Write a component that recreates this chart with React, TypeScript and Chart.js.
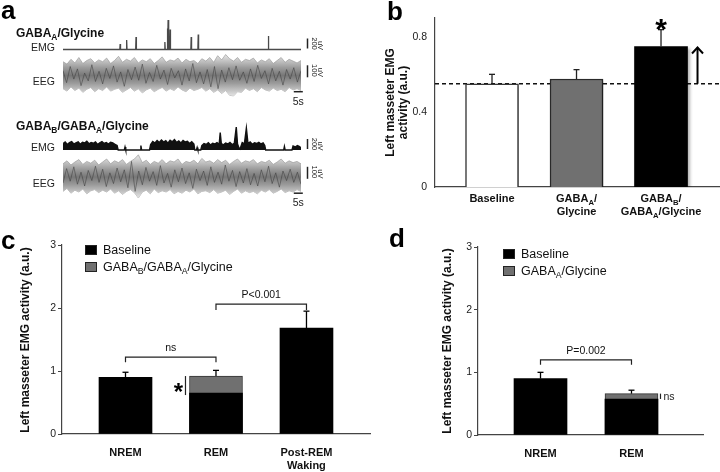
import React, { useEffect, useRef } from "react";
import { Chart, registerables } from "chart.js";

Chart.register(...registerables);

const FONT = "'Liberation Sans', Arial, Helvetica, sans-serif";
Chart.defaults.font.family = FONT;

// ---------------- Panel a : raw traces ----------------
const traceTitles = ["GABA_A/Glycine", "GABA_B/GABA_A/Glycine"];
const emgScaleUv = 200;
const eegScaleUv = 100;
const timeScaleS = 5;
const traceDurationS = 132;

const emg1Times = [0, 31.5, 31.7, 31.9, 35.1, 35.3, 35.5, 40.3, 40.5, 40.7, 56.3, 56.5, 56.7, 57.7, 57.9, 58.1, 58.3, 58.5, 58.7, 59.2, 59.4, 59.6, 70.9, 71.1, 71.3, 74.8, 75.0, 75.2, 113.7, 113.9, 114.1, 132];
const emg1Values = [0, 0, 110, 0, 0, 190, 0, 0, 250, 0, 0, 150, 0, 0, 420, 0, 590, 0, 0, 0, 400, 0, 0, 250, 0, 0, 300, 0, 0, 270, 0, 0];

const emg2Times = [
  0, 1.2, 2.4, 3.6, 4.8, 6, 7.2, 8.4, 9.6, 10.8, 12, 13.2, 14.4, 15.6, 16.8, 18, 19.2, 20.4, 21.6, 22.8, 24, 25.2, 26.4, 27.6, 28.8, 30, 30.6,
  34.0, 34.4, 34.8,
  42.8, 43.2, 43.6,
  48.0, 48.6, 49.8, 51.0, 52.2, 53.4, 54.6, 55.8, 57.0, 58.2, 59.4, 60.6, 61.8, 63.0, 64.2, 65.4, 66.6, 67.8, 69.0, 70.2, 71.4, 72.6, 73.1,
  74.0, 74.4, 74.8,
  76.4, 77.0, 78.2, 79.4, 80.6, 81.8, 83.0, 84.2, 85.4, 86.6, 87.2, 87.8, 89.0, 90.2, 91.4, 92.6, 93.8, 95.0, 96.1, 96.8,
  97.6, 98.2, 99.4, 100.6, 101.7, 102.6, 103.8, 105.0, 106.2, 107.4, 108.6, 109.8, 111.0, 111.9, 112.4,
  122.4, 122.8, 123.2,
  127.0, 127.6, 128.8, 130.0, 131.2, 132,
];
const emg2Values = [
  130, 160, 110, 150, 170, 120, 145, 165, 115, 155, 140, 175, 125, 150, 135, 160, 110, 145, 170, 130, 150, 120, 155, 140, 115, 90, 0,
  0, 60, 0,
  0, 90, 0,
  0, 110, 170, 140, 190, 150, 200, 160, 185, 135, 195, 165, 210, 150, 180, 140, 190, 160, 175, 130, 165, 120, 0,
  0, 50, 0,
  0, 90, 130, 110, 145, 100, 135, 120, 150, 115, 350, 130, 105, 140, 120, 150, 110, 135, 460, 120,
  40, 20, 150, 125, 440, 130, 160, 115, 145, 130, 155, 120, 140, 90, 0,
  0, 70, 0,
  0, 80, 60, 90, 70, 40,
];

const eegStepS = 2.2;
const eeg1Upper = [
  115, 95, 135, 105, 150, 100, 125, 140, 105, 130,
  115, 145, 100, 125, 160, 110, 135, 120, 150, 105,
  130, 115, 140, 100, 125, 155, 110, 130, 120, 145,
  105, 135, 115, 125, 100, 140, 120, 150, 110, 165,
  130, 175, 140, 120, 150, 110, 135, 125, 145, 105,
  130, 115, 140, 100, 125, 150, 110, 135, 120, 105, 125,
];
const eeg1Lower = [
  -110, -130, -95, -125, -105, -140, -115, -100, -135, -110,
  -125, -95, -130, -115, -105, -140, -120, -100, -130, -110,
  -145, -120, -105, -135, -115, -100, -130, -110, -125, -95,
  -120, -135, -105, -125, -115, -100, -130, -110, -140, -120,
  -150, -125, -165, -170, -135, -140, -105, -125, -110, -135,
  -100, -120, -130, -105, -125, -115, -135, -100, -120, -110, -125,
];
const eeg2Upper = [
  110, 135, 100, 125, 145, 105, 130, 115, 140, 100,
  125, 150, 110, 135, 120, 145, 105, 130, 150, 185,
  120, 140, 105, 130, 115, 145, 110, 135, 125, 150,
  105, 130, 120, 140, 110, 155, 125, 135, 115, 145,
  120, 140, 105, 130, 150, 115, 135, 125, 145, 110,
  130, 120, 140, 105, 125, 150, 115, 135, 120, 130, 110,
];
const eeg2Lower = [
  -120, -95, -135, -110, -125, -100, -140, -115, -105, -130,
  -110, -125, -100, -135, -115, -145, -120, -105, -130, -175,
  -125, -110, -140, -100, -130, -115, -125, -105, -140, -120,
  -135, -110, -125, -100, -140, -120, -115, -130, -105, -135,
  -125, -110, -145, -120, -100, -135, -115, -130, -120, -140,
  -110, -125, -105, -135, -120, -100, -130, -115, -125, -105, -120,
];
const eegCoreStepS = 2.0;
const eeg1Core = [
  40, -60, 75, -30, 55, -85, 20, -45, 90, -50,
  35, -70, 60, -25, 80, -55, 30, -90, 50, -35,
  70, -40, 95, -65, 25, -50, 85, -30, 45, -75,
  60, -20, 40, -80, 55, -45, 100, -60, 30, -70,
  50, -95, 75, -110, 45, -55, 65, -35, 80, -40,
  30, -65, 55, -50, 85, -25, 40, -70, 60, -45,
  35, -80, 50, -30, 65, -55, 40,
];
const eeg2Core = [
  -50, 70, -35, 85, -60, 40, -75, 55, -30, 90,
  -45, 65, -80, 35, -55, 75, -40, 60, -90, 130,
  -120, 50, -65, 80, -35, 45, -70, 95, -50, 30,
  -85, 60, -40, 75, -55, 35, -95, 65, -30, 50,
  -70, 85, -45, 40, -60, 100, -35, 55, -80, 45,
  -50, 70, -65, 30, -75, 60, -40, 90, -55, 35,
  -85, 50, -30, 65, -45, 40, -60,
];

// ---------------- Panel b ----------------
const bCategories = [["Baseline"], ["GABA_A/", "Glycine"], ["GABA_B/", "GABA_A/Glycine"]];
const bValues = [0.55, 0.575, 0.748];
const bErrors = [0.05, 0.05, 0.09];
const bYMax = 0.9;
const bYStep = 0.4;
const bYTitle = ["Left masseter EMG", "activity (a.u.)"];

// ---------------- Panel c ----------------
const cCategories = [["NREM"], ["REM"], ["Post-REM", "Waking"]];
const cSeriesNames = ["Baseline", "GABA_B/GABA_A/Glycine"];
const cBaseline = [0.9, 0.65, 1.68];
const cBaselineErr = [0.08, null, 0.27];
const cDrug = [null, 0.92, null];
const cDrugErr = [null, 0.09, null];
const cBrackets = [
  { from: 0, to: 1, level: 1.22, drop: 0.08, text: "ns" },
  { from: 1, to: 2, level: 2.06, drop: 0.09, text: "P<0.001" },
];

// ---------------- Panel d ----------------
const dCategories = [["NREM"], ["REM"]];
const dSeriesNames = ["Baseline", "GABA_A/Glycine"];
const dBaseline = [0.9, 0.575];
const dBaselineErr = [0.1, null];
const dDrug = [null, 0.66];
const dDrugErr = [null, 0.055];
const dBrackets = [{ from: 0, to: 1, level: 1.2, drop: 0.08, text: "P=0.002" }];

const yTitleFull = "Left masseter EMG activity (a.u.)";

// ---------------- helpers ----------------
type Seg = { t: string; sub: boolean };
function parseRich(text: string): Seg[] {
  const segs: Seg[] = [];
  let buf = "";
  for (let i = 0; i < text.length; i++) {
    if (text[i] === "_" && i + 1 < text.length) {
      if (buf) segs.push({ t: buf, sub: false });
      buf = "";
      segs.push({ t: text[i + 1], sub: true });
      i++;
    } else buf += text[i];
  }
  if (buf) segs.push({ t: buf, sub: false });
  return segs;
}

function drawRich(ctx: CanvasRenderingContext2D, text: string, x: number, y: number, size: number, weight = "normal", align = "left", color = "#111") {
  const segs = parseRich(text);
  const sub = size * 0.7;
  const fontFor = (s: Seg) => `${weight} ${s.sub ? sub : size}px ${FONT}`;
  let total = 0;
  for (const s of segs) {
    ctx.font = fontFor(s);
    total += ctx.measureText(s.t).width;
  }
  let cx = align === "center" ? x - total / 2 : align === "right" ? x - total : x;
  ctx.save();
  ctx.fillStyle = color;
  ctx.textAlign = "left";
  ctx.textBaseline = "alphabetic";
  for (const s of segs) {
    ctx.font = fontFor(s);
    ctx.fillText(s.t, cx, s.sub ? y + size * 0.25 : y);
    cx += ctx.measureText(s.t).width;
  }
  ctx.restore();
}

function drawRotated(ctx: CanvasRenderingContext2D, text: string, x: number, y: number, angle: number, font: string, color = "#111") {
  ctx.save();
  ctx.translate(x, y);
  ctx.rotate(angle);
  ctx.font = font;
  ctx.fillStyle = color;
  ctx.textAlign = "center";
  ctx.textBaseline = "middle";
  ctx.fillText(text, 0, 0);
  ctx.restore();
}

function line(ctx: CanvasRenderingContext2D, x1: number, y1: number, x2: number, y2: number) {
  ctx.beginPath();
  ctx.moveTo(x1, y1);
  ctx.lineTo(x2, y2);
  ctx.stroke();
}

function drawErrorBars(chart: any, color = "#000") {
  const { ctx } = chart;
  chart.data.datasets.forEach((ds: any, di: number) => {
    const errs = ds.errors;
    if (!errs) return;
    const meta = chart.getDatasetMeta(di);
    const ys = chart.scales[meta.yAxisID];
    meta.data.forEach((el: any, i: number) => {
      const e = errs[i];
      const v = ds.data[i] && ds.data[i].y;
      if (e == null || v == null) return;
      const yTop = ys.getPixelForValue(v + e);
      ctx.save();
      ctx.strokeStyle = color;
      ctx.lineWidth = 1.3;
      line(ctx, el.x, el.y, el.x, yTop);
      line(ctx, el.x - 3, yTop, el.x + 3, yTop);
      ctx.restore();
    });
  });
}

function drawCategoryLabels(chart: any, cats: string[][], first: number, lineH: number) {
  const { ctx, chartArea, scales } = chart;
  cats.forEach((lines, i) => {
    const x = scales.x.getPixelForValue(i);
    lines.forEach((t, k) => drawRich(ctx, t, x, chartArea.bottom + first + k * lineH, 11, "bold", "center"));
  });
}

function drawLegend(ctx: CanvasRenderingContext2D, x: number, y: number, names: string[], fills: string[], rowH: number) {
  names.forEach((n, i) => {
    const yy = y + i * rowH;
    ctx.save();
    ctx.fillStyle = fills[i];
    ctx.fillRect(x, yy, 12, 10);
    ctx.strokeStyle = "#222";
    ctx.lineWidth = 1;
    ctx.strokeRect(x + 0.5, yy + 0.5, 11, 9);
    ctx.restore();
    drawRich(ctx, n, x + 18, yy + 9, 12.5, "normal", "left");
  });
}

function drawBrackets(chart: any, brackets: any[]) {
  const { ctx, scales } = chart;
  brackets.forEach((b) => {
    const x1 = scales.x.getPixelForValue(b.from);
    const x2 = scales.x.getPixelForValue(b.to);
    const y = scales.y.getPixelForValue(b.level);
    const yd = scales.y.getPixelForValue(b.level - b.drop);
    ctx.save();
    ctx.strokeStyle = "#222";
    ctx.lineWidth = 1.2;
    ctx.beginPath();
    ctx.moveTo(x1, yd);
    ctx.lineTo(x1, y);
    ctx.lineTo(x2, y);
    ctx.lineTo(x2, yd);
    ctx.stroke();
    ctx.restore();
    drawRich(ctx, b.text, (x1 + x2) / 2, y - 6, 10.5, "normal", "center");
  });
}

function panelLetter(ctx: CanvasRenderingContext2D, t: string, x: number, y: number) {
  ctx.save();
  ctx.font = `bold 26px ${FONT}`;
  ctx.fillStyle = "#000";
  ctx.textAlign = "left";
  ctx.textBaseline = "alphabetic";
  ctx.fillText(t, x, y);
  ctx.restore();
}

const W = 720;
const H = 472;

function pts(xs: number[], ys: number[]) {
  return xs.map((x, i) => ({ x, y: ys[i] }));
}
function stepPts(vals: number[], step: number) {
  return vals.map((v, i) => ({ x: i * step, y: v }));
}

// ---------------- panel a config ----------------
function makeA() {
  const area = { left: 63, right: 301, top: 0, bottom: 236 };
  const traceScale = (zeroPx: number, pxPerUnit: number) => ({
    type: "linear",
    display: false,
    min: -(area.bottom - zeroPx) / pxPerUnit,
    max: (zeroPx - area.top) / pxPerUnit,
  });
  const eegFill = (ctx: any) => {
    const chart = ctx.chart;
    const sc = chart.scales && chart.scales[ctx.dataset.yAxisID];
    if (!chart.chartArea || !sc) return "#888";
    const y0 = sc.getPixelForValue(0);
    const g = chart.ctx.createLinearGradient(0, y0 - 19, 0, y0 + 19);
    g.addColorStop(0, "#dcdcdc");
    g.addColorStop(0.3, "#9a9a9a");
    g.addColorStop(0.5, "#777777");
    g.addColorStop(0.7, "#9a9a9a");
    g.addColorStop(1, "#dcdcdc");
    return g;
  };
  const eegDs = (vals: number[], axis: string, fill: any) => ({
    data: stepPts(vals, eegStepS),
    yAxisID: axis,
    borderColor: "rgba(150,150,150,0.8)",
    borderWidth: 0.8,
    backgroundColor: eegFill,
    fill,
    pointRadius: 0,
  });
  const coreDs = (vals: number[], axis: string) => ({
    data: stepPts(vals, eegCoreStepS),
    yAxisID: axis,
    borderColor: "rgba(50,50,50,0.6)",
    borderWidth: 0.8,
    fill: false,
    pointRadius: 0,
  });
  const plugin = {
    id: "panelA",
    afterDraw(chart: any) {
      const { ctx, scales: s } = chart;
      panelLetter(ctx, "a", 1, 19);
      drawRich(ctx, traceTitles[0], 16, 37, 12, "bold");
      drawRich(ctx, traceTitles[1], 16, 130, 12, "bold");
      const groups = [
        { emg: s.emg1, eeg: s.eeg1 },
        { emg: s.emg2, eeg: s.eeg2 },
      ];
      const bx = 307.5;
      groups.forEach((g) => {
        const e0 = g.emg.getPixelForValue(0);
        const c0 = g.eeg.getPixelForValue(0);
        drawRich(ctx, "EMG", 55, e0 + 1, 10.5, "normal", "right", "#222");
        drawRich(ctx, "EEG", 55, c0 + 9.5, 10.5, "normal", "right", "#222");
        ctx.save();
        ctx.strokeStyle = "#222";
        ctx.lineWidth = 1.5;
        const e1 = g.emg.getPixelForValue(emgScaleUv);
        line(ctx, bx, e0 - 1, bx, e1 - 1);
        const ca = g.eeg.getPixelForValue(-15);
        const cb = g.eeg.getPixelForValue(-15 + eegScaleUv);
        line(ctx, bx, ca, bx, cb);
        const tEnd = traceDurationS - 4;
        const x1 = s.x.getPixelForValue(tEnd);
        const x2 = s.x.getPixelForValue(tEnd + timeScaleS);
        const yb = g.eeg.getPixelForValue(-135);
        line(ctx, x1, yb, x2, yb);
        ctx.restore();
        drawRich(ctx, "5s", (x1 + x2) / 2, yb + 13, 10.5, "normal", "center", "#222");
        const f = `7.5px ${FONT}`;
        drawRotated(ctx, String(emgScaleUv), 314.5, (e0 + e1) / 2 - 1, Math.PI / 2, f, "#222");
        drawRotated(ctx, "uV", 320.5, (e0 + e1) / 2 + 1, Math.PI / 2, f, "#222");
        drawRotated(ctx, String(eegScaleUv), 314.5, (ca + cb) / 2 - 1, Math.PI / 2, f, "#222");
        drawRotated(ctx, "uV", 320.5, (ca + cb) / 2 + 1, Math.PI / 2, f, "#222");
      });
    },
  };
  return {
    type: "line",
    data: {
      datasets: [
        { data: pts(emg1Times, emg1Values), yAxisID: "emg1", borderColor: "#4a4a4a", borderWidth: 1.3, pointRadius: 0, fill: false },
        coreDs(eeg1Core, "eeg1"),
        eegDs(eeg1Upper, "eeg1", "+1"),
        eegDs(eeg1Lower, "eeg1", false),
        { data: pts(emg2Times, emg2Values), yAxisID: "emg2", borderColor: "#111", backgroundColor: "#111", borderWidth: 1.4, pointRadius: 0, fill: "origin" },
        coreDs(eeg2Core, "eeg2"),
        eegDs(eeg2Upper, "eeg2", "+1"),
        eegDs(eeg2Lower, "eeg2", false),
      ],
    },
    options: {
      responsive: false,
      animation: false,
      events: [],
      layout: { padding: { left: area.left, right: W - area.right, top: area.top, bottom: H - area.bottom } },
      plugins: { legend: { display: false }, tooltip: { enabled: false } },
      elements: { line: { tension: 0 }, point: { radius: 0 } },
      scales: {
        x: { type: "linear", display: false, min: 0, max: traceDurationS },
        emg1: traceScale(49.5, 0.05),
        eeg1: traceScale(75.5, 0.12),
        emg2: traceScale(150, 0.05),
        eeg2: traceScale(177, 0.12),
      },
    },
    plugins: [plugin],
  };
}

// ---------------- generic bar axis options ----------------
function barScales(xMin: number, xMax: number, yMax: number, yStep: number, tickMarks: boolean, labelPad: number) {
  return {
    x: {
      type: "linear",
      offset: false,
      min: xMin,
      max: xMax,
      ticks: { display: false },
      grid: { display: false, drawTicks: false, offset: false },
      border: { display: true, color: "#444", width: 1.2 },
      afterFit: (s: any) => {
        s.height = 10;
      },
    },
    y: {
      type: "linear",
      min: 0,
      max: yMax,
      ticks: { stepSize: yStep, includeBounds: false, color: "#222", font: { size: 10.5 }, padding: labelPad },
      grid: tickMarks
        ? { display: true, drawOnChartArea: false, drawTicks: true, tickLength: 4, color: "#444" }
        : { display: false, drawTicks: false },
      border: { display: true, color: "#444", width: 1.2 },
      afterFit: (s: any) => {
        s.width = 40;
      },
    },
  };
}

function makeB() {
  const plugin = {
    id: "panelB",
    beforeDatasetsDraw(chart: any) {
      const { ctx, chartArea, scales } = chart;
      const yb = scales.y.getPixelForValue(bValues[0]);
      ctx.save();
      ctx.setLineDash([4, 3]);
      ctx.lineWidth = 1.5;
      ctx.strokeStyle = "#111";
      line(ctx, chartArea.left, yb, chartArea.right, yb);
      ctx.restore();
      ctx.save();
      ctx.shadowColor = "rgba(0,0,0,0.3)";
      ctx.shadowBlur = 3;
      ctx.shadowOffsetX = 2;
      ctx.shadowOffsetY = 1.5;
    },
    afterDatasetsDraw(chart: any) {
      const { ctx, chartArea, scales } = chart;
      ctx.restore();
      drawErrorBars(chart, "#222");
      const meta = chart.getDatasetMeta(0);
      const el = meta.data[2];
      const ax = el.x + el.width / 2 + 10;
      const yFrom = scales.y.getPixelForValue(bValues[0]);
      const yTo = scales.y.getPixelForValue(bValues[2]);
      ctx.save();
      ctx.strokeStyle = "#000";
      ctx.lineWidth = 2;
      line(ctx, ax, yFrom, ax, yTo + 1);
      ctx.beginPath();
      ctx.moveTo(ax - 5.5, yTo + 7);
      ctx.lineTo(ax, yTo + 1);
      ctx.lineTo(ax + 5.5, yTo + 7);
      ctx.stroke();
      ctx.restore();
      const yStar = scales.y.getPixelForValue(bValues[2] + bErrors[2]);
      ctx.save();
      ctx.font = `bold 30px ${FONT}`;
      ctx.fillStyle = "#000";
      ctx.textAlign = "center";
      ctx.fillText("*", el.x, yStar + 9);
      ctx.restore();
      drawCategoryLabels(chart, bCategories, 15, 13);
      const f = `bold 12px ${FONT}`;
      const cy = (chartArea.top + chartArea.bottom) / 2;
      drawRotated(ctx, bYTitle[0], 390.5, cy, -Math.PI / 2, f);
      drawRotated(ctx, bYTitle[1], 403.5, cy, -Math.PI / 2, f);
      panelLetter(ctx, "b", 387, 20);
    },
  };
  return {
    type: "bar",
    data: {
      datasets: [
        {
          data: bValues.map((v, i) => ({ x: i, y: v })),
          errors: bErrors,
          backgroundColor: ["#ffffff", "#707070", "#000000"],
          borderColor: ["#3a3a3a", "#2a2a2a", "#000000"],
          borderWidth: [1.5, 1.5, 0],
          barThickness: 53,
          grouped: false,
        },
      ],
    },
    options: {
      responsive: false,
      animation: false,
      events: [],
      layout: { padding: { left: 395, right: 0, top: 18, bottom: H - 187 - 10 } },
      plugins: { legend: { display: false }, tooltip: { enabled: false } },
      scales: barScales(-0.6746, 2.698, bYMax, bYStep, false, 8),
    },
    plugins: [plugin],
  };
}

function makeStateBars(opts: any) {
  const { cats, names, base, baseErr, drug, drugErr, brackets, pad, xMin, xMax, letter, letterPos, titlePos, legendPos, marker } = opts;
  const plugin = {
    id: "panel" + letter,
    afterDatasetsDraw(chart: any) {
      const { ctx, scales } = chart;
      drawErrorBars(chart, "#000");
      drawBrackets(chart, brackets);
      drawCategoryLabels(chart, cats, 22, 13);
      drawLegend(ctx, legendPos[0], legendPos[1], names, ["#000000", "#707070"], 17);
      drawRotated(ctx, yTitleFull, titlePos[0], titlePos[1], -Math.PI / 2, `bold 12px ${FONT}`);
      panelLetter(ctx, letter, letterPos[0], letterPos[1]);
      const i = drug.findIndex((v: any) => v != null);
      const el = chart.getDatasetMeta(1).data[i];
      const yTopPx = scales.y.getPixelForValue(drug[i]);
      const yBasePx = scales.y.getPixelForValue(base[i]);
      ctx.save();
      ctx.strokeStyle = "#222";
      ctx.lineWidth = 1.2;
      if (marker === "star") {
        const lx = el.x - el.width / 2 - 4;
        line(ctx, lx, yTopPx, lx, yBasePx + 2);
        ctx.font = `bold 24px ${FONT}`;
        ctx.fillStyle = "#000";
        ctx.textAlign = "center";
        ctx.fillText("*", lx - 7, (yTopPx + yBasePx) / 2 + 15);
      } else {
        const lx = el.x + el.width / 2 + 2.5;
        line(ctx, lx, yTopPx, lx, yBasePx);
        drawRich(ctx, "ns", lx + 3, (yTopPx + yBasePx) / 2 + 4, 10.5, "normal", "left", "#222");
      }
      ctx.restore();
    },
  };
  return {
    type: "bar",
    data: {
      datasets: [
        {
          label: names[0],
          data: base.map((v: any, i: number) => ({ x: i, y: v })),
          errors: baseErr,
          backgroundColor: "#000000",
          borderWidth: 0,
          barThickness: 53,
          grouped: false,
        },
        {
          label: names[1],
          data: drug.map((v: any, i: number) => ({ x: i, y: v })),
          errors: drugErr,
          backgroundColor: "#707070",
          borderColor: "#333333",
          borderWidth: 1,
          barThickness: 53,
          grouped: false,
        },
      ],
    },
    options: {
      responsive: false,
      animation: false,
      events: [],
      layout: { padding: pad },
      plugins: { legend: { display: false }, tooltip: { enabled: false } },
      scales: barScales(xMin, xMax, 3, 1, true, 2),
    },
    plugins: [plugin],
  };
}

function makeC() {
  return makeStateBars({
    cats: cCategories,
    names: cSeriesNames,
    base: cBaseline,
    baseErr: cBaselineErr,
    drug: cDrug,
    drugErr: cDrugErr,
    brackets: cBrackets,
    pad: { left: 62 - 40, right: W - 370, top: 245, bottom: H - 434 - 10 },
    xMin: -0.7017,
    xMax: 2.702,
    letter: "c",
    letterPos: [1, 249],
    titlePos: [26, 340],
    legendPos: [85, 245],
    marker: "star",
  });
}

function makeD() {
  return makeStateBars({
    cats: dCategories,
    names: dSeriesNames,
    base: dBaseline,
    baseErr: dBaselineErr,
    drug: dDrug,
    drugErr: dDrugErr,
    brackets: dBrackets,
    pad: { left: 478 - 40, right: W - 703, top: 247, bottom: H - 435 - 10 },
    xMin: -0.687,
    xMax: 1.786,
    letter: "d",
    letterPos: [389, 247],
    titlePos: [448, 341],
    legendPos: [503, 249],
    marker: "ns",
  });
}

export default function App() {
  const refA = useRef<HTMLCanvasElement>(null);
  const refB = useRef<HTMLCanvasElement>(null);
  const refC = useRef<HTMLCanvasElement>(null);
  const refD = useRef<HTMLCanvasElement>(null);

  useEffect(() => {
    const charts: Chart[] = [];
    const pairs: [React.RefObject<HTMLCanvasElement>, () => any][] = [
      [refA, makeA],
      [refB, makeB],
      [refC, makeC],
      [refD, makeD],
    ];
    pairs.forEach(([r, mk]) => {
      if (r.current) charts.push(new Chart(r.current, mk()));
    });
    return () => charts.forEach((c) => c.destroy());
  }, []);

  const cs: React.CSSProperties = { position: "absolute", left: 0, top: 0, width: W, height: H };
  return (
    <div style={{ position: "absolute", left: 0, top: 0, width: W, height: H, background: "#fff", overflow: "hidden" }}>
      <canvas ref={refA} width={W} height={H} style={cs} />
      <canvas ref={refB} width={W} height={H} style={cs} />
      <canvas ref={refC} width={W} height={H} style={cs} />
      <canvas ref={refD} width={W} height={H} style={cs} />
    </div>
  );
}
